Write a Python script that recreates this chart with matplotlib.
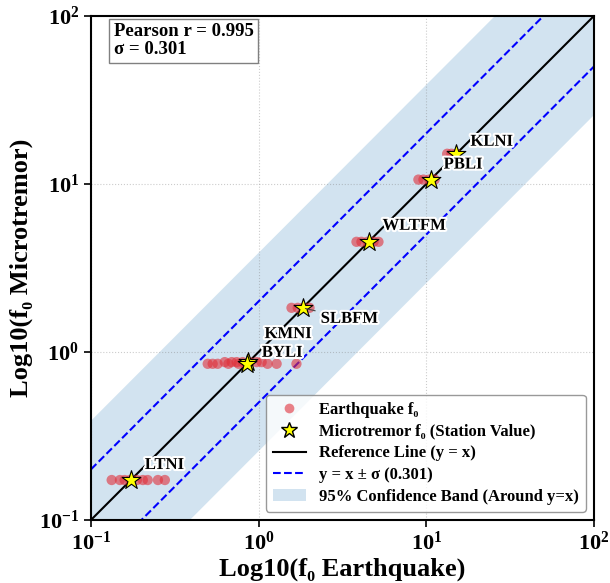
import numpy as np
import matplotlib
matplotlib.use("Agg")
import matplotlib.pyplot as plt
import matplotlib.patheffects as pe
from matplotlib.patches import Patch
from matplotlib.lines import Line2D

plt.rcParams['font.family'] = ['Liberation Serif', 'DejaVu Serif']
plt.rcParams['font.weight'] = 'bold'
plt.rcParams['mathtext.fontset'] = 'custom'
plt.rcParams['mathtext.rm'] = 'Liberation Serif:bold'
plt.rcParams['mathtext.it'] = 'Liberation Serif:bold'
plt.rcParams['mathtext.bf'] = 'Liberation Serif:bold'
plt.rcParams['mathtext.default'] = 'rm'

# Station data
stations = ["LTNI", "KMNI", "BYLI", "SLBFM", "WLTFM", "PBLI", "KLNI"]
micro_f0 = [0.173, 0.87, 0.85, 1.83, 4.52, 10.6, 15.1]
eq_LTNI = [0.133, 0.149, 0.159, 0.171, 0.188, 0.204, 0.218, 0.251, 0.276]
eq_KMNI = [0.628, 0.691, 0.740, 0.803, 0.884, 0.973, 1.042]
eq_BYLI = [0.497, 0.532, 0.570, 0.66, 0.76, 0.85, 1.13, 1.28, 1.68]
eq_SLBFM = [1.57, 1.71, 1.85, 2.01]
eq_WLTFM = [3.83, 4.10, 4.45, 4.84, 5.18]
eq_PBLI = [8.96, 9.60, 10.4, 11.2]
eq_KLNI = [13.3, 14.1, 15.1]
eq_values = [eq_LTNI, eq_KMNI, eq_BYLI, eq_SLBFM, eq_WLTFM, eq_PBLI, eq_KLNI]
pearson_r = 0.995
sigma = 0.301

fig = plt.figure(figsize=(6.1, 5.83), dpi=100)
ax = fig.add_axes([0.149, 0.108, 0.825, 0.865])

xline = np.logspace(-1, 2, 200)
ax.fill_between(xline, xline / 10 ** (1.96 * sigma), xline * 10 ** (1.96 * sigma),
                color='tab:blue', alpha=0.2, linewidth=0, zorder=1)
ax.plot(xline, xline, color='black', lw=1.5, zorder=2)
ax.plot(xline, xline * 10 ** sigma, color='blue', ls='--', lw=1.5, zorder=2)
ax.plot(xline, xline / 10 ** sigma, color='blue', ls='--', lw=1.5, zorder=2)

for vals, y in zip(eq_values, micro_f0):
    ax.scatter(vals, [y] * len(vals), s=55, color='#e0303a', alpha=0.6,
               edgecolors='none', zorder=3)
ax.scatter(micro_f0, micro_f0, marker='*', s=200, color='yellow',
           edgecolors='black', linewidths=0.8, zorder=5)

offsets = {"LTNI": (14, 15), "KMNI": (16, 28), "BYLI": (15, 11), "SLBFM": (18, -11),
           "WLTFM": (14, 16), "PBLI": (13, 15), "KLNI": (14, 12)}
for name, y in zip(stations, micro_f0):
    dx, dy = offsets[name]
    kw = {}
    if name == "SLBFM":
        kw['arrowprops'] = dict(arrowstyle='-', color='#444444', lw=0.8)
    t = ax.annotate(name, (y, y), xytext=(dx, dy), textcoords='offset pixels',
                    ha='left', va='center', fontsize=12, fontweight='bold', zorder=6, **kw)
    t.set_path_effects([pe.withStroke(linewidth=3, foreground='white')])

ax.set_xscale('log')
ax.set_yscale('log')
ax.set_xlim(0.1, 100)
ax.set_ylim(0.1, 100)
ax.grid(True, which='major', ls=':', color='gray', alpha=0.4)
ax.minorticks_off()
ax.tick_params(labelsize=16, width=1.2, length=5)
for s in ax.spines.values():
    s.set_linewidth(1.5)

ax.set_xlabel("Log10(f₀ Earthquake)", fontsize=19, fontweight='bold', labelpad=2)
ax.set_ylabel("Log10(f₀ Microtremor)", fontsize=19, fontweight='bold')

ax.text(0.045, 0.985, f"Pearson r = {pearson_r:.3f}\nσ = {sigma:.3f}", transform=ax.transAxes,
        ha='left', va='top', fontsize=13.5, fontweight='bold', linespacing=1.05,
        bbox=dict(boxstyle='square,pad=0.25', facecolor='white', edgecolor='gray', lw=1),
        zorder=7)

handles = [
    Line2D([], [], marker='o', ls='none', color='#e0303a', alpha=0.6, markersize=7, markeredgewidth=0),
    Line2D([], [], marker='*', ls='none', markerfacecolor='yellow', markeredgecolor='black', markersize=12),
    Line2D([], [], color='black', lw=1.5),
    Line2D([], [], color='blue', ls='--', lw=1.5),
    Patch(facecolor='tab:blue', alpha=0.2),
]
labels = ["Earthquake f₀", "Microtremor f₀ (Station Value)", "Reference Line (y = x)",
          f"y = x ± σ ({sigma:.3f})", "95% Confidence Band (Around y=x)"]
leg = ax.legend(handles, labels, loc='lower right', frameon=True, labelspacing=0.35,
                edgecolor='gray', prop={'weight': 'bold', 'size': 12})
leg.set_zorder(8)

fig.savefig("out.png", dpi=100)
